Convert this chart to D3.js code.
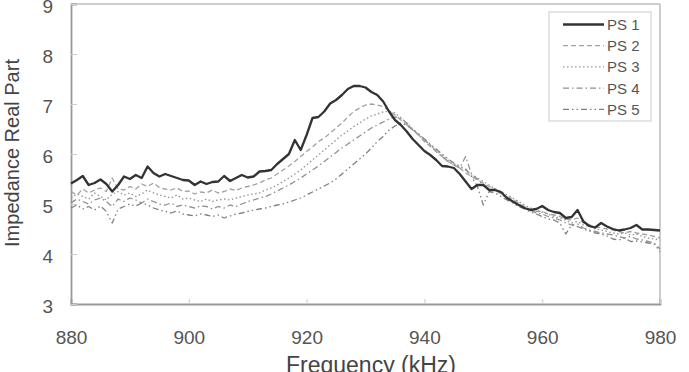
<!DOCTYPE html>
<html><head><meta charset="utf-8">
<script src="https://cdn.jsdelivr.net/npm/d3@7"></script>
<style>body{margin:0;background:#fff}svg{display:block}text{font-family:"Liberation Sans",Arial,sans-serif}</style>
</head><body>
<script>
const freqStart = 880;
const xTicks = [880, 900, 920, 940, 960, 980];
const yTicks = [3, 4, 5, 6, 7, 8, 9];
const seriesNames = ["PS 1", "PS 2", "PS 3", "PS 4", "PS 5"];
const ps1 = [5.41,5.48,5.56,5.38,5.42,5.49,5.40,5.25,5.38,5.55,5.50,5.58,5.52,5.75,5.62,5.55,5.60,5.56,5.52,5.48,
5.47,5.38,5.45,5.40,5.44,5.45,5.56,5.46,5.52,5.58,5.53,5.55,5.65,5.66,5.68,5.80,5.90,6.00,6.28,6.08,
6.38,6.72,6.74,6.85,7.01,7.08,7.18,7.30,7.36,7.36,7.33,7.24,7.18,7.05,6.85,6.68,6.58,6.45,6.30,6.18,
6.06,5.98,5.88,5.76,5.75,5.72,5.60,5.45,5.30,5.38,5.38,5.28,5.28,5.24,5.12,5.05,4.98,4.92,4.88,4.90,
4.96,4.88,4.84,4.82,4.72,4.74,4.88,4.65,4.56,4.53,4.62,4.55,4.50,4.47,4.49,4.52,4.58,4.49,4.49,4.48,4.47];
const ps2 = [5.25,5.18,5.30,5.22,5.28,5.32,5.25,5.52,5.30,5.28,5.35,5.30,5.40,5.35,5.42,5.33,5.30,5.28,5.32,5.25,
5.26,5.20,5.24,5.22,5.28,5.22,5.25,5.30,5.27,5.32,5.35,5.38,5.42,5.48,5.52,5.60,5.68,5.76,5.85,5.95,
6.05,6.14,6.25,6.32,6.42,6.52,6.62,6.74,6.85,6.92,6.98,7.00,6.98,6.95,6.86,6.78,6.68,6.58,6.48,6.38,
6.25,6.15,6.05,5.95,5.85,5.78,5.72,5.62,5.55,5.48,5.42,5.35,5.30,5.22,5.15,5.10,5.02,4.95,4.90,4.85,
4.85,4.80,4.78,4.75,4.70,4.68,4.72,4.62,4.58,4.55,4.52,4.50,4.48,4.45,4.42,4.45,4.42,4.40,4.38,4.35,4.32];
const ps3 = [5.12,5.20,5.15,5.10,5.22,5.15,5.08,5.20,5.25,5.18,5.22,5.15,5.20,5.28,5.22,5.18,5.15,5.12,5.18,5.10,
5.12,5.08,5.05,5.10,5.05,5.08,5.10,5.08,5.12,5.15,5.18,5.20,5.22,5.28,5.32,5.38,5.45,5.52,5.60,5.68,
5.78,5.88,5.98,6.08,6.18,6.28,6.38,6.46,6.55,6.62,6.70,6.76,6.80,6.84,6.86,6.82,6.72,6.62,6.50,6.40,
6.28,6.18,6.08,5.98,5.88,5.80,5.75,5.68,5.58,5.52,5.45,5.38,5.30,5.25,5.18,5.12,5.05,4.98,4.92,4.88,
4.84,4.80,4.75,4.72,4.68,4.62,4.65,4.58,4.55,4.50,4.48,4.45,4.42,4.40,4.42,4.38,4.40,4.35,4.32,4.30,4.28];
const ps4 = [5.02,5.10,5.05,5.00,5.08,5.12,5.05,4.95,5.10,5.05,5.12,5.08,5.02,5.10,5.05,5.00,4.98,5.02,4.95,4.98,
4.95,4.92,4.96,4.95,4.90,4.95,4.92,4.98,4.95,5.00,5.05,5.08,5.12,5.15,5.20,5.26,5.32,5.38,5.45,5.52,
5.60,5.68,5.76,5.85,5.94,6.03,6.12,6.20,6.28,6.36,6.44,6.52,6.58,6.64,6.70,6.74,6.72,6.62,6.50,6.38,
6.28,6.18,6.05,5.95,5.85,5.78,5.72,5.95,5.60,5.50,5.38,5.30,5.28,5.20,5.12,5.05,5.00,4.92,4.88,4.82,
4.80,4.75,4.72,4.68,4.62,4.58,4.60,4.52,4.48,4.45,4.42,4.40,4.38,4.35,4.32,4.35,4.30,4.28,4.25,4.22,4.10];
const ps5 = [4.92,4.98,4.90,4.95,4.88,4.96,4.85,4.62,4.90,4.95,5.00,4.96,5.02,4.98,4.92,4.88,4.85,4.82,4.86,4.80,
4.78,4.76,4.80,4.78,4.75,4.78,4.72,4.76,4.80,4.82,4.85,4.88,4.90,4.92,4.95,4.98,5.00,5.04,5.08,5.12,
5.18,5.24,5.30,5.36,5.42,5.50,5.60,5.70,5.80,5.90,6.00,6.12,6.25,6.35,6.48,6.56,6.62,6.58,6.48,6.40,
6.30,6.20,6.10,6.00,5.90,5.82,5.76,5.70,5.55,5.35,4.98,5.25,5.22,5.15,5.08,5.02,4.95,4.90,4.84,4.80,
4.75,4.70,4.68,4.62,4.40,4.58,4.55,4.50,4.46,4.42,4.40,4.36,4.30,4.28,4.32,4.25,4.26,4.24,4.22,4.20,4.05];
const allSeries = [ps1, ps2, ps3, ps4, ps5];
const styles = [
  {color:"#333", width:2.3, dash:null},
  {color:"#a0a0a0", width:1.3, dash:"5,3"},
  {color:"#999", width:1.4, dash:"1.5,2.5"},
  {color:"#909090", width:1.3, dash:"6,3,1.5,3"},
  {color:"#808080", width:1.3, dash:"6,3,1.5,3,1.5,3"}
];

const W = 689, H = 372;
const L = 71, R = 660, T = 4, B = 304;
const svg = d3.select("body").append("svg").attr("width", W).attr("height", H);
const x = d3.scaleLinear().domain([880, 980]).range([L, R]);
const y = d3.scaleLinear().domain([3, 9]).range([B, T]);

// frame top/right
svg.append("line").attr("x1",L).attr("x2",R).attr("y1",T).attr("y2",T).attr("stroke","#bbb").attr("stroke-width",1.5);
svg.append("line").attr("x1",R).attr("x2",R).attr("y1",T).attr("y2",B).attr("stroke","#bbb").attr("stroke-width",1.5);

const xAxis = svg.append("g").attr("transform",`translate(0,${B})`)
  .call(d3.axisBottom(x).tickValues(xTicks).tickSize(-5).tickPadding(25).tickFormat(d3.format("d")));
const yAxis = svg.append("g").attr("transform",`translate(${L},0)`)
  .call(d3.axisLeft(y).tickValues(yTicks).tickSize(-6).tickPadding(18).tickFormat(d3.format("d")));
[xAxis, yAxis].forEach(g => {
  g.select(".domain").attr("stroke","#999").attr("stroke-width",1.8);
  g.selectAll(".tick line").attr("stroke","#ccc").attr("stroke-width",1);
  g.selectAll(".tick text").attr("fill","#555").style("font-size","19px");
});
yAxis.selectAll(".tick text").attr("dy","0.45em");
xAxis.selectAll(".tick text").attr("dy","0.71em").attr("y", 27);

const line = d3.line().x((d,i)=>x(freqStart+i)).y(d=>y(d));
const order = [4,3,2,1,0];
order.forEach(k => {
  const s = styles[k];
  svg.append("path").datum(allSeries[k]).attr("d", line).attr("fill","none")
    .attr("stroke", s.color).attr("stroke-width", s.width)
    .attr("stroke-dasharray", s.dash).attr("stroke-linejoin","round");
});

// legend
const lg = svg.append("g");
lg.append("rect").attr("x",549).attr("y",12).attr("width",102).attr("height",109)
  .attr("fill","#fff").attr("stroke","#ccc").attr("stroke-width",1);
seriesNames.forEach((n,i) => {
  const cy = 24.5 + i*21.2;
  const s = styles[i];
  lg.append("line").attr("x1",563).attr("x2",604).attr("y1",cy).attr("y2",cy)
    .attr("stroke",s.color).attr("stroke-width",s.width).attr("stroke-dasharray",s.dash);
  lg.append("text").attr("x",607).attr("y",cy).attr("dy","0.36em").attr("fill","#555")
    .style("font-size","15px").text(n);
});

svg.append("text").attr("x",371).attr("y",373).attr("text-anchor","middle").attr("fill","#444")
  .style("font-size","23px").text("Frequency (kHz)");
svg.append("text").attr("transform","translate(19,153) rotate(-90)").attr("text-anchor","middle")
  .attr("fill","#444").style("font-size","20px").text("Impedance Real Part");
</script>
</body></html>
